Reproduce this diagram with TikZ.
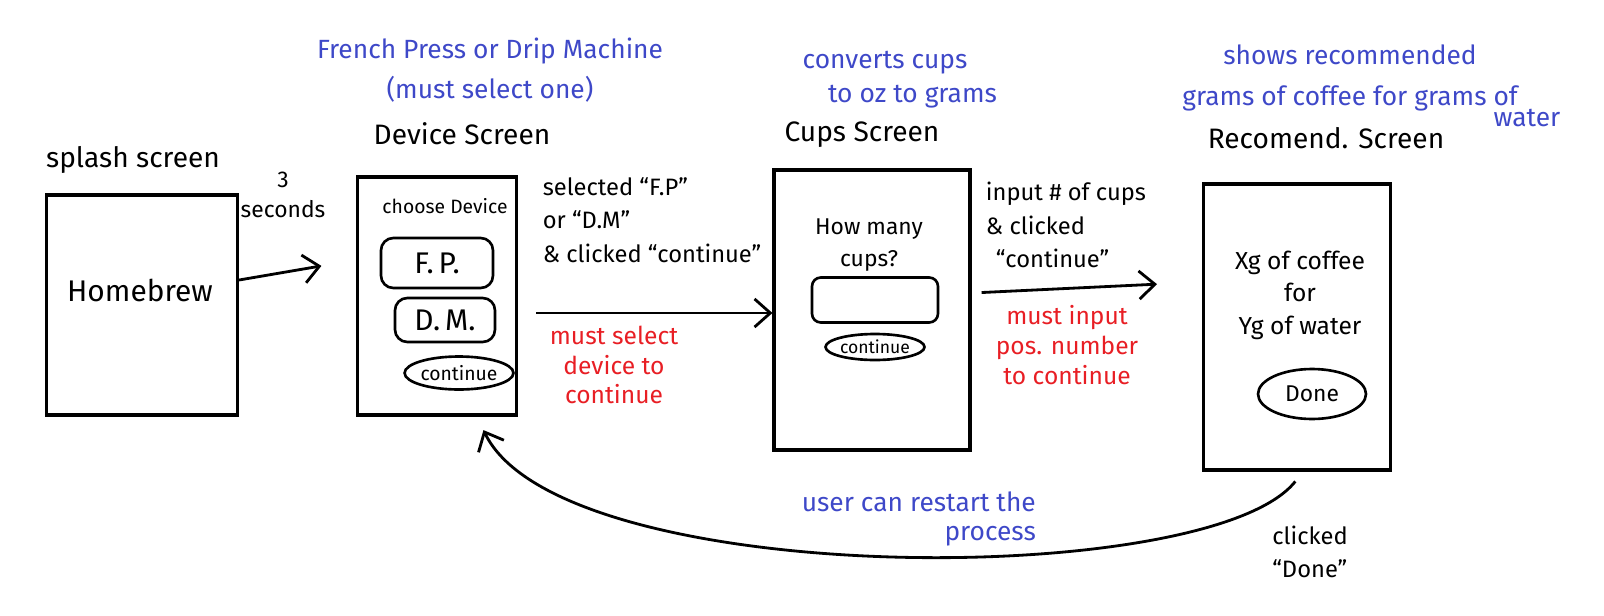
\documentclass[tikz,border=0pt]{standalone}
\usepackage{fontspec}
\setmainfont{Fira Sans}
\usepackage{xcolor}
\usepackage{tikz}
\usetikzlibrary{shapes, arrows.meta, positioning}

\definecolor{penblue}{RGB}{62,72,200}
\definecolor{penred}{RGB}{232,30,36}

\begin{document}
\begin{tikzpicture}[
    x=0.02cm, y=-0.02cm,
    font=\fontsize{14}{20}\selectfont,
    screen/.style={draw, line width=1.8pt, inner sep=0pt},
    btn/.style={draw, line width=1.5pt, rounded corners=7pt, font=\fontsize{17}{20}\selectfont},
    pill/.style={draw, ellipse, line width=1.5pt, inner sep=0pt, font=\fontsize{11}{13}\selectfont},
    title/.style={font=\fontsize{16}{20}\selectfont},
    note/.style={text=penblue, align=center, font=\fontsize{15}{23}\selectfont},
    warn/.style={text=penred, align=center, font=\fontsize{14}{17}\selectfont},
    elab/.style={align=left, font=\fontsize{13.5}{19}\selectfont},
    arr/.style={-{Straight Barb[length=9pt, width=16pt]}, line width=1.6pt}
]
\useasboundingbox (0,0) rectangle (1604,615);

% screens
\node[screen, minimum width=3.82cm, minimum height=4.4cm]  (splash) at (142,305)  {};
\node[screen, minimum width=3.18cm, minimum height=4.76cm] (device) at (437,296)  {};
\node[screen, minimum width=3.92cm, minimum height=5.6cm]  (cups)   at (872,310)  {};
\node[screen, minimum width=3.74cm, minimum height=5.72cm] (rec)    at (1297,327) {};

% screen titles
\node[title] (splashtitle) at (133,160)  {splash screen};
\node[title] (devtitle)    at (462,134)  {Device Screen};
\node[title] (cupstitle)   at (862,135)  {Cups Screen};
\node[title] (rectitle)    at (1326,138) {Recomend. Screen};

% splash contents
\node[font=\fontsize{17}{20}\selectfont] (brand) at (140,290) {Homebrew};

% device contents
\node[font=\fontsize{11}{13}\selectfont] (choose) at (445,206) {choose Device};
\node[btn, minimum width=2.24cm, minimum height=1.0cm]  (fp) at (437,263) {F.\,P.};
\node[btn, minimum width=2.0cm, minimum height=0.88cm]  (dm) at (445,320) {D.\,M.};
\node[pill, minimum width=1.9cm, minimum height=0.66cm] (devgo) at (459,373) {continue};

% cups contents
\node[align=center, font=\fontsize{13}{18}\selectfont] (ask) at (869,245) {How many\\cups?};
\node[draw, line width=1.5pt, rounded corners=5pt, minimum width=2.52cm, minimum height=0.9cm] (field) at (875,300) {};
\node[pill, minimum width=1.94cm, minimum height=0.52cm, font=\fontsize{10}{12}\selectfont] (cupsgo) at (875,347) {continue};

% recommend contents
\node[align=center, font=\fontsize{14}{18.5}\selectfont] (result) at (1300,295) {Xg of coffee\\for\\Yg of water};
\node[pill, minimum width=2.16cm, minimum height=1.0cm, font=\fontsize{13}{15}\selectfont] (done) at (1312,394) {Done};

% blue notes
\node[note] (devnote)  at (490,70)  {French Press or Drip Machine\\(must select one)};
\node[note, font=\fontsize{15}{19.5}\selectfont] (cupsnote) at (885,80) {converts cups\\\hspace*{1.1cm}to oz to grams};
\node[note] (recnote)  at (1350,78) {shows recommended\\grams of coffee for grams of};
\node[note] (recnote2) at (1527,118) {water};
\node[note, align=right, anchor=east, font=\fontsize{15}{17}\selectfont] (restart) at (1042,519) {user can restart the\\process};

% red notes
\node[warn] (devwarn)  at (614,365)  {must select\\device to\\continue};
\node[warn] (cupswarn) at (1067,345) {must input\\pos. number\\to continue};

% transitions
\draw[arr, shorten >=0.7cm] ([yshift=0.5cm]splash.east) -- ([yshift=0.72cm]device.west);
\node[align=center, font=\fontsize{13}{17}\selectfont] (wait) at (283,195) {3\\seconds};

\draw[arr, shorten <=0.36cm] ([yshift=-0.34cm]device.east) -- ([yshift=-0.34cm]device.east -| cups.west);
\node[elab] (devlab) at (652,220) {selected ``F.P''\\or ``D.M''\\\& clicked ``continue''};

\draw[arr, shorten <=0.2cm, shorten >=0.9cm] ([yshift=0.34cm]cups.east) -- ([yshift=0.9cm]rec.west);
\node[elab] (cupslab) at (1066,225) {input \# of cups\\\& clicked\\\hspace*{0.2cm}``continue''};

\draw[arr, shorten <=0.25cm, shorten >=0.3cm] ([xshift=0.12cm]rec.south)
    .. controls (1210,590) and (560,590) .. ([xshift=0.8cm]device.south);
\node[elab] (donelab) at (1310,552) {clicked\\``Done''};

\end{tikzpicture}
\end{document}
